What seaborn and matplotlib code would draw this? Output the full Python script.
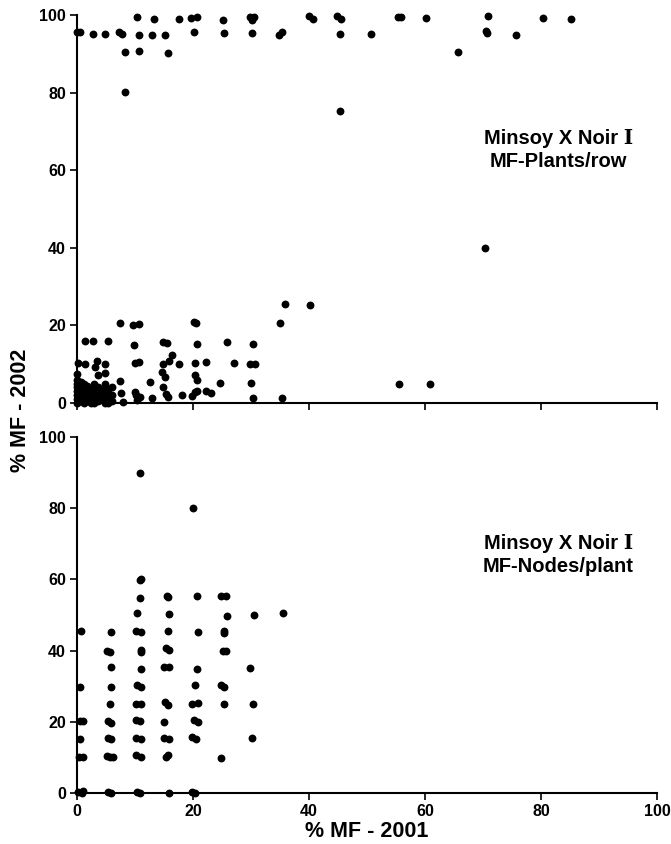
import numpy as np
import pandas as pd
import seaborn as sns
import matplotlib.pyplot as plt

# Minsoy X Noir I, MF-Plants/row (top panel)
plants_2001 = [0, 0.5, 2.7, 4.9, 7.3, 7.7, 8.2, 8.2, 10.4, 10.6, 10.6, 13, 13.3, 15.2, 15.6,
               17.5, 19.7, 20.6, 20.2, 25.1, 25.4, 29.9, 30.5, 30.2, 30.2, 34.9, 35.4, 40, 40.7,
               44.9, 45.5, 45.3, 45.3, 50.7, 55.3, 55.8, 60.2, 65.7, 70.9, 70.5, 70.6, 70.4, 75.7,
               80.4, 85.2,
               35.8, 40.2, 35, 7.4, 9.7, 10.6, 20.1, 20.5, 1.4, 2.8, 5.4, 9.9, 14.9, 15.5, 20.6,
               25.8, 30.4, 16.4, 0.2, 1.4, 3.4, 3.1, 4.8, 10, 10.6, 14.9, 15.8, 17.5, 20.4, 22.3,
               27, 29.9, 30.6, 14.6, 15.2, 20.4, 20.7, 24.7, 30, 12.6, 7.4, 7.6, 8, 12.9, 14.9,
               15.4, 15.6, 18.1, 19.8, 20.4, 20.7, 22.3, 23.1, 30.4, 35.3, 10, 10.2, 10.9, 10.3,
               55.5, 60.8,
               0, 0, 0, 0, 0, 0, 0, 0, 0.6, 0.6, 0.6, 0.6, 0.6, 0.6, 1.2, 1.2, 1.2, 1.2, 1.2,
               1.8, 1.8, 1.8, 1.8, 2.4, 2.4, 2.4, 2.4, 3.0, 3.0, 3.0, 3.0, 3.0, 3.6, 3.6, 3.6,
               3.6, 4.2, 4.2, 4.8, 4.8, 4.8, 4.8, 4.8, 4.8, 5.4, 5.4, 5.4, 5.4, 6, 6, 6]
plants_2002 = [95.7, 95.7, 95, 95, 95.7, 95, 90.5, 80.2, 99.4, 94.8, 90.8, 94.9, 98.9, 94.9, 90.1,
               99.1, 99.3, 99.4, 95.7, 98.8, 95.4, 99.4, 99.4, 98.7, 95.3, 94.8, 95.7, 99.7, 99.1,
               99.8, 99.1, 95, 75.3, 95, 99.4, 99.4, 99.2, 90.5, 99.7, 95.9, 95.3, 40, 94.8,
               99.3, 98.9,
               25.5, 25.3, 20.5, 20.7, 20.2, 20.4, 20.8, 20.6, 15.9, 15.9, 15.9, 14.9, 15.8, 15.4, 15.2,
               15.8, 15.1, 12.5, 10.2, 10, 10.7, 9.4, 10, 10.4, 10.6, 10.1, 10.9, 10.1, 10.4, 10.5,
               10.4, 10.1, 10.1, 8.1, 6.8, 7.2, 5.9, 5.1, 5.1, 5.3, 5.7, 2.5, 0.3, 1.4, 4,
               2.3, 1.5, 2, 1.8, 2.9, 3.1, 3.2, 2.5, 1.2, 1.3, 2.9, 2.1, 1.6, 0.8,
               5, 5,
               0, 1, 2, 3, 4, 5, 6, 7.5, 0.5, 1.5, 2.5, 3.5, 4.5, 5.5, 0, 1, 2, 3, 5,
               0.5, 2, 3.5, 4.5, 0, 1.2, 2.5, 3.5, 0, 1, 2, 3.5, 5, 0.5, 2, 4,
               7.2, 1, 3.3, 0, 1.5, 2.5, 3.5, 5, 7.8, 0, 1, 2.5, 3.5, 0.5, 2, 4]

# Minsoy X Noir I, MF-Nodes/plant (bottom panel)
nodes_2001 = [10.8, 20, 10.9, 11.1, 10.8, 15.5, 15.7, 20.7, 24.9, 25.7, 10.3, 15.9, 25.8, 30.5, 35.5,
              0.6, 5.9, 10.1, 11, 15.6, 20.8, 25.4, 25.4,
              5.2, 5.7, 11, 11, 15.3, 15.9, 25.2, 25.7,
              5.9, 11, 15, 15.9, 20.6, 29.8,
              0.5, 5.9, 10.4, 11, 20.4, 24.9, 25.4,
              5.7, 10.1, 11, 15.1, 15.7, 19.8, 20.8, 25.3, 30.3,
              0.5, 1.1, 5.4, 5.9, 10.1, 10.8, 15, 20.2, 20.8,
              0.5, 5.4, 5.9, 10.1, 11, 15, 15.9, 19.9, 20.5, 30.1,
              0.4, 1.1, 5.2, 5.7, 6.2, 10.1, 11, 15.3, 15.6, 24.9,
              0.2, 0.8, 1.1, 5.4, 5.9, 10.4, 10.8, 15.9, 19.9, 20.4]
nodes_2002 = [89.8, 80.2, 59.7, 60.2, 54.9, 55.3, 55.1, 55.3, 55.3, 55.3, 50.6, 50.4, 49.7, 49.9, 50.5,
              45.6, 45.3, 45.5, 45.1, 45.5, 45.3, 45.6, 44.9,
              39.9, 39.7, 40.2, 39.5, 40.6, 40.2, 40, 40,
              35.3, 34.7, 35.3, 35.3, 34.7, 35,
              29.9, 29.9, 30.3, 29.9, 30.3, 30.3, 29.9,
              25.1, 25, 25, 25.6, 24.7, 25, 25.2, 25, 25,
              20.3, 20.3, 20.3, 19.7, 20.5, 20.3, 20, 20.5, 20,
              15.1, 15.4, 15.1, 15.5, 15.1, 15.5, 15.1, 15.6, 15.1, 15.4,
              10.2, 10.2, 10.4, 10.2, 10.2, 10.7, 10.2, 10, 10.7, 9.9,
              0.4, 0.1, 0.6, 0.4, 0.1, 0.4, 0.1, 0.1, 0.4, 0.1]

panels = [
    (plants_2001, plants_2002, 'Minsoy X Noir \u2160\nMF-Plants/row', 65.2),
    (nodes_2001, nodes_2002, 'Minsoy X Noir \u2160\nMF-Nodes/plant', 66.8),
]

sns.set_style('ticks')
plt.rcParams['font.family'] = ['Liberation Sans', 'DejaVu Sans']
plt.rcParams['font.weight'] = 'bold'
plt.rcParams['text.color'] = 'black'
plt.rcParams['axes.labelcolor'] = 'black'
plt.rcParams['xtick.color'] = 'black'
plt.rcParams['ytick.color'] = 'black'

fig = plt.figure(figsize=(6.71, 8.44), dpi=100)
ax_top = fig.add_axes([0.1148, 0.5225, 0.8644, 0.4597])
ax_bot = fig.add_axes([0.1148, 0.0604, 0.8644, 0.4218])

for ax, (xs, ys, label, label_y) in zip([ax_top, ax_bot], panels):
    df = pd.DataFrame({'mf2001': xs, 'mf2002': ys})
    sns.scatterplot(data=df, x='mf2001', y='mf2002', ax=ax, color='black',
                    s=32, linewidth=0, clip_on=False)
    ax.set_xlim(0, 100)
    ax.set_ylim(0, 100)
    ax.set_xticks(np.arange(0, 101, 20))
    ax.set_yticks(np.arange(0, 101, 20))
    ax.set(xlabel='', ylabel='')
    for side in ['top', 'right']:
        ax.spines[side].set_visible(False)
    for side in ['left', 'bottom']:
        ax.spines[side].set_linewidth(1.5)
        ax.spines[side].set_color('black')
    ax.tick_params(direction='out', length=5, width=1.2, labelsize=11.5, pad=3)
    for t in ax.get_xticklabels() + ax.get_yticklabels():
        t.set_fontweight('bold')
    # roman numeral falls back to a serif face, like the original
    ax.text(83, label_y, label, ha='center', va='center', fontsize=14.5, fontweight='bold',
            linespacing=1.25, family=['Liberation Sans', 'DejaVu Serif'])

ax_top.tick_params(axis='x', labelbottom=False)
ax_bot.set_xlabel('% MF - 2001', fontsize=15.5, fontweight='bold', labelpad=1)
fig.text(0.03, 0.514, '% MF - 2002', rotation=90, ha='center', va='center',
         fontsize=15.5, fontweight='bold')

plt.savefig('out.png', dpi=100)
